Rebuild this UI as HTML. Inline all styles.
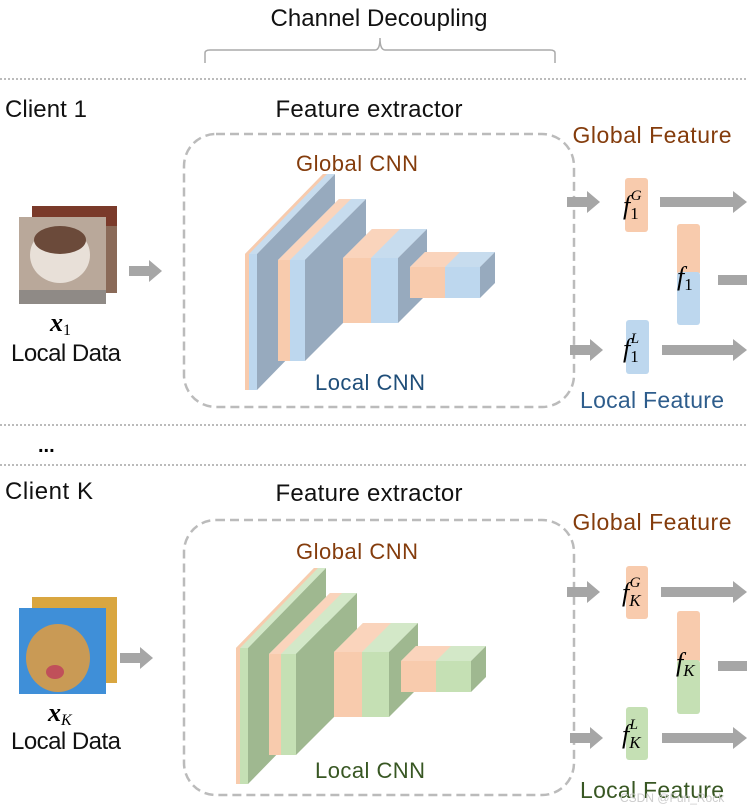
<!DOCTYPE html>
<html><head><meta charset="utf-8"><style>
body{margin:0;background:#fff;}
svg{display:block;font-family:"Liberation Sans",sans-serif;}
.t{font-size:24px;fill:#111;}
.m{font-family:"Liberation Serif",serif;font-style:italic;}
</style></head><body>
<svg width="747" height="812" viewBox="0 0 747 812" xmlns="http://www.w3.org/2000/svg">
<defs>
<g id="arr"><rect x="0" y="-5" width="22" height="10" fill="#a6a6a6"/><polygon points="20,-11 33,0 20,11" fill="#a6a6a6"/></g>
</defs>
<text x="379" y="26" text-anchor="middle" class="t" textLength="217">Channel Decoupling</text>
<path d="M205,63 V53 Q205,50 210,50 H375 Q380,50 380,38 Q380,50 385,50 H550 Q555,50 555,53 V63" fill="none" stroke="#aaa" stroke-width="1.5"/>
<line x1="0" y1="79" x2="747" y2="79" stroke="#bbb" stroke-width="2" stroke-dasharray="2,2"/>
<line x1="0" y1="425" x2="747" y2="425" stroke="#bbb" stroke-width="2" stroke-dasharray="2,2"/>
<line x1="0" y1="465" x2="747" y2="465" stroke="#bbb" stroke-width="2" stroke-dasharray="2,2"/>
<text x="38" y="452" style="font-size:20px;font-weight:bold">...</text>

<!-- Client 1 -->
<text x="5" y="117" class="t" textLength="82">Client 1</text>
<text x="369" y="117" text-anchor="middle" class="t" textLength="187">Feature extractor</text>
<rect x="184" y="134" width="390" height="273" rx="32" fill="none" stroke="#bbb" stroke-width="2.5" stroke-dasharray="9,5"/>
<text x="357" y="171" text-anchor="middle" style="font-size:22px;fill:#843c0c" textLength="122">Global CNN</text>
<text x="370" y="390" text-anchor="middle" style="font-size:22px;fill:#1f4e79" textLength="110">Local CNN</text>
<g>
 <polygon points="245,254 323,174 335,174 257,254" fill="#c7dcee"/>
 <polygon points="245,254 323,174 327,174 249,254" fill="#f8cbad"/>
 <polygon points="257,254 335,174 335,310 257,390" fill="#97aabe"/>
 <rect x="245" y="254" width="4" height="136" fill="#f8cbad"/>
 <rect x="249" y="254" width="8" height="136" fill="#bdd7ee"/>
 <polygon points="278,260 339,199 366,199 305,260" fill="#c7dcee"/>
 <polygon points="278,260 339,199 351,199 290,260" fill="#fad4bc"/>
 <polygon points="305,260 366,199 366,300 305,361" fill="#97aabe"/>
 <rect x="278" y="260" width="12" height="101" fill="#f8cbad"/>
 <rect x="290" y="260" width="15" height="101" fill="#bdd7ee"/>
 <polygon points="343,258 372,229 427,229 398,258" fill="#c7dcee"/>
 <polygon points="343,258 372,229 400,229 371,258" fill="#fad4bc"/>
 <polygon points="398,258 427,229 427,294 398,323" fill="#97aabe"/>
 <rect x="343" y="258" width="28" height="65" fill="#f8cbad"/>
 <rect x="371" y="258" width="27" height="65" fill="#bdd7ee"/>
 <polygon points="410,267 425,252 495,252 480,267" fill="#c7dcee"/>
 <polygon points="410,267 425,252 460,252 445,267" fill="#fad4bc"/>
 <polygon points="480,267 495,252 495,283 480,298" fill="#97aabe"/>
 <rect x="410" y="267" width="35" height="31" fill="#f8cbad"/>
 <rect x="445" y="267" width="35" height="31" fill="#bdd7ee"/>
</g>
<rect x="32" y="206" width="85" height="87" fill="#8a6a58"/>
<rect x="32" y="206" width="85" height="20" fill="#7a3a2a"/>
<rect x="19" y="217" width="87" height="87" fill="#b9a89a"/>
<ellipse cx="60" cy="255" rx="30" ry="28" fill="#e8e0d8"/>
<ellipse cx="60" cy="240" rx="26" ry="14" fill="#6b4a3a"/>
<rect x="19" y="290" width="87" height="14" fill="#8f8a86"/>
<use href="#arr" x="129" y="271"/>
<text x="50" y="331" style="font-family:'Liberation Serif',serif;font-style:italic;font-weight:bold;font-size:26px">x<tspan dy="4" style="font-size:16px;font-style:normal;font-weight:normal">1</tspan></text>
<text x="66" y="361" text-anchor="middle" class="t" textLength="110">Local Data</text>

<text x="652" y="143" text-anchor="middle" style="font-size:23px;fill:#843c0c" textLength="159">Global Feature</text>
<use href="#arr" x="567" y="202"/>
<rect x="625" y="178" width="23" height="54" rx="3" fill="#f8cbad"/>
<text x="623" y="214" class="m" style="font-size:26px">f<tspan dy="5" style="font-size:17px;font-style:normal">1</tspan><tspan dx="-8" dy="-19" style="font-size:15px">G</tspan></text>
<rect x="660" y="197" width="75" height="10" fill="#a6a6a6"/><polygon points="733,191 747,202 733,213" fill="#a6a6a6"/>
<rect x="677" y="224" width="23" height="51" rx="3" fill="#f8cbad"/>
<rect x="677" y="272" width="23" height="53" rx="3" fill="#bdd7ee"/>
<text x="677" y="285" class="m" style="font-size:26px">f<tspan dy="5" style="font-size:17px;font-style:normal">1</tspan></text>
<rect x="718" y="275" width="29" height="10" fill="#a6a6a6"/>
<use href="#arr" x="570" y="350"/>
<rect x="626" y="320" width="23" height="54" rx="3" fill="#bdd7ee"/>
<text x="623" y="357" class="m" style="font-size:26px">f<tspan dy="5" style="font-size:17px;font-style:normal">1</tspan><tspan dx="-8" dy="-19" style="font-size:15px">L</tspan></text>
<rect x="662" y="345" width="73" height="10" fill="#a6a6a6"/><polygon points="733,339 747,350 733,361" fill="#a6a6a6"/>
<text x="652" y="408" text-anchor="middle" style="font-size:23px;fill:#2e5d8c" textLength="144">Local Feature</text>

<!-- Client K -->
<text x="5" y="499" class="t" textLength="88">Client K</text>
<text x="369" y="501" text-anchor="middle" class="t" textLength="187">Feature extractor</text>
<rect x="184" y="520" width="390" height="275" rx="32" fill="none" stroke="#bbb" stroke-width="2.5" stroke-dasharray="9,5"/>
<text x="357" y="559" text-anchor="middle" style="font-size:22px;fill:#843c0c" textLength="122">Global CNN</text>
<text x="370" y="778" text-anchor="middle" style="font-size:22px;fill:#385723" textLength="110">Local CNN</text>
<g transform="translate(-9,394)">
 <polygon points="245,254 323,174 335,174 257,254" fill="#d3e8c8"/>
 <polygon points="245,254 323,174 327,174 249,254" fill="#f8cbad"/>
 <polygon points="257,254 335,174 335,310 257,390" fill="#9fb890"/>
 <rect x="245" y="254" width="4" height="136" fill="#f8cbad"/>
 <rect x="249" y="254" width="8" height="136" fill="#c5e0b4"/>
 <polygon points="278,260 339,199 366,199 305,260" fill="#d3e8c8"/>
 <polygon points="278,260 339,199 351,199 290,260" fill="#fad4bc"/>
 <polygon points="305,260 366,199 366,300 305,361" fill="#9fb890"/>
 <rect x="278" y="260" width="12" height="101" fill="#f8cbad"/>
 <rect x="290" y="260" width="15" height="101" fill="#c5e0b4"/>
 <polygon points="343,258 372,229 427,229 398,258" fill="#d3e8c8"/>
 <polygon points="343,258 372,229 400,229 371,258" fill="#fad4bc"/>
 <polygon points="398,258 427,229 427,294 398,323" fill="#9fb890"/>
 <rect x="343" y="258" width="28" height="65" fill="#f8cbad"/>
 <rect x="371" y="258" width="27" height="65" fill="#c5e0b4"/>
 <polygon points="410,267 425,252 495,252 480,267" fill="#d3e8c8"/>
 <polygon points="410,267 425,252 460,252 445,267" fill="#fad4bc"/>
 <polygon points="480,267 495,252 495,283 480,298" fill="#9fb890"/>
 <rect x="410" y="267" width="35" height="31" fill="#f8cbad"/>
 <rect x="445" y="267" width="35" height="31" fill="#c5e0b4"/>
</g>
<rect x="32" y="597" width="85" height="86" fill="#d9a640"/>
<rect x="19" y="608" width="87" height="86" fill="#3f8fd8"/>
<ellipse cx="58" cy="658" rx="32" ry="34" fill="#c99a55"/>
<ellipse cx="55" cy="672" rx="9" ry="7" fill="#c0505a"/>
<use href="#arr" x="120" y="658"/>
<text x="48" y="721" style="font-family:'Liberation Serif',serif;font-style:italic;font-weight:bold;font-size:26px">x<tspan dy="4" style="font-size:16px;font-weight:normal">K</tspan></text>
<text x="66" y="749" text-anchor="middle" class="t" textLength="110">Local Data</text>

<text x="652" y="530" text-anchor="middle" style="font-size:23px;fill:#843c0c" textLength="159">Global Feature</text>
<use href="#arr" x="567" y="592"/>
<rect x="626" y="566" width="22" height="53" rx="3" fill="#f8cbad"/>
<text x="622" y="601" class="m" style="font-size:26px">f<tspan dy="5" style="font-size:17px">K</tspan><tspan dx="-11" dy="-19" style="font-size:15px">G</tspan></text>
<rect x="661" y="587" width="74" height="10" fill="#a6a6a6"/><polygon points="733,581 747,592 733,603" fill="#a6a6a6"/>
<rect x="677" y="611" width="23" height="52" rx="3" fill="#f8cbad"/>
<rect x="677" y="660" width="23" height="54" rx="3" fill="#c5e0b4"/>
<text x="676" y="671" class="m" style="font-size:26px">f<tspan dy="5" style="font-size:17px">K</tspan></text>
<rect x="718" y="661" width="29" height="10" fill="#a6a6a6"/>
<use href="#arr" x="570" y="738"/>
<rect x="626" y="707" width="22" height="53" rx="3" fill="#c5e0b4"/>
<text x="622" y="743" class="m" style="font-size:26px">f<tspan dy="5" style="font-size:17px">K</tspan><tspan dx="-11" dy="-19" style="font-size:15px">L</tspan></text>
<rect x="662" y="733" width="73" height="10" fill="#a6a6a6"/><polygon points="733,727 747,738 733,749" fill="#a6a6a6"/>
<text x="652" y="798" text-anchor="middle" style="font-size:23px;fill:#385723" textLength="144">Local Feature</text>
<text x="620" y="802" style="font-size:12px;fill:#ccc">CSDN @Fun_Rock</text>
</svg>
</body></html>
